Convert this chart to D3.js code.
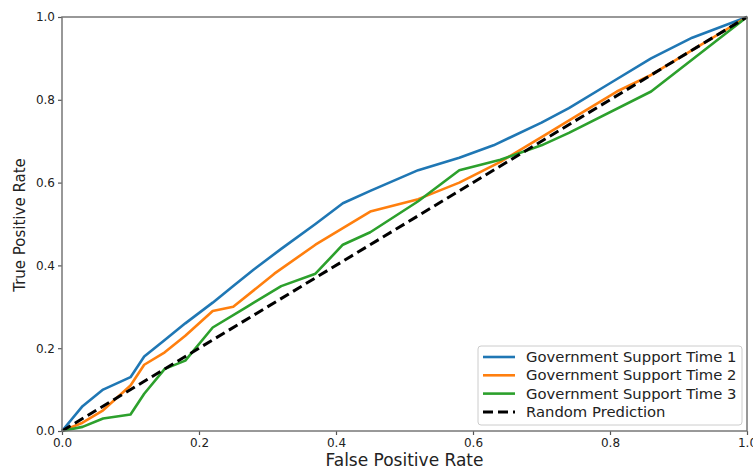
<!DOCTYPE html>
<html>
<head>
<meta charset="utf-8">
<script src="https://cdn.jsdelivr.net/npm/d3@7"></script>
<style>
  html, body { margin: 0; padding: 0; background: #fff; }
  svg text { font-family: "DejaVu Sans", sans-serif; fill: #222; }
</style>
</head>
<body>
<div id="chart"></div>
<script>
// ROC curves, one per time point, plus the random baseline
const time1 = [
    [0, 0], [0.03, 0.06], [0.06, 0.10], [0.10, 0.13], [0.12, 0.18], [0.15, 0.22],
    [0.18, 0.26], [0.22, 0.31], [0.25, 0.35], [0.28, 0.39], [0.32, 0.44], [0.37, 0.50],
    [0.41, 0.55], [0.45, 0.58], [0.52, 0.63], [0.58, 0.66], [0.63, 0.69], [0.70, 0.745],
    [0.74, 0.78], [0.80, 0.84], [0.86, 0.90], [0.92, 0.95], [1, 1]
];
const time2 = [
    [0, 0], [0.03, 0.02], [0.06, 0.05], [0.10, 0.11], [0.12, 0.16], [0.15, 0.19],
    [0.18, 0.23], [0.22, 0.29], [0.25, 0.30], [0.31, 0.38], [0.37, 0.45], [0.45, 0.53],
    [0.52, 0.56], [0.58, 0.60], [0.64, 0.65], [0.70, 0.71], [0.75, 0.76], [0.81, 0.82],
    [0.86, 0.86], [0.92, 0.92], [1, 1]
];
const time3 = [
    [0, 0], [0.03, 0.01], [0.06, 0.03], [0.10, 0.04], [0.12, 0.09], [0.15, 0.15],
    [0.18, 0.17], [0.22, 0.25], [0.27, 0.30], [0.32, 0.35], [0.37, 0.38], [0.41, 0.45],
    [0.45, 0.48], [0.52, 0.555], [0.58, 0.63], [0.64, 0.655], [0.70, 0.69], [0.74, 0.72],
    [0.86, 0.82], [1, 1]
];
const randomLine = [[0, 0], [1, 1]];
const seriesNames = ["Government Support Time 1", "Government Support Time 2", "Government Support Time 3", "Random Prediction"];
const tickValues = [0, 0.2, 0.4, 0.6, 0.8, 1.0];

{
    const W = 753, H = 469;
    const margin = { top: 17, right: 6, bottom: 38, left: 62 };
    const width = W - margin.left - margin.right;
    const height = H - margin.top - margin.bottom;

    const svg = d3.select("#chart").append("svg")
        .attr("width", W)
        .attr("height", H);

    const g = svg.append("g")
        .attr("transform", `translate(${margin.left},${margin.top})`);

    const x = d3.scaleLinear().domain([0, 1]).range([0, width]);
    const y = d3.scaleLinear().domain([0, 1]).range([height, 0]);

    const line = d3.line().x(d => x(d[0])).y(d => y(d[1]));

    const series = [
        { name: seriesNames[0], data: time1, color: "#1f77b4", dash: null },
        { name: seriesNames[1], data: time2, color: "#ff7f0e", dash: null },
        { name: seriesNames[2], data: time3, color: "#2ca02c", dash: null },
        { name: seriesNames[3], data: randomLine, color: "#000000", dash: "10,5" }
    ];

    g.selectAll(".curve")
        .data(series)
        .enter()
        .append("path")
        .attr("class", "curve")
        .attr("d", d => line(d.data))
        .attr("fill", "none")
        .attr("stroke", d => d.color)
        .attr("stroke-width", d => d.dash ? 3 : 2.6)
        .attr("stroke-dasharray", d => d.dash)
        .attr("stroke-linejoin", "round");

    // axes
    const fmt = d3.format(".1f");
    const xAxis = g.append("g")
        .attr("transform", `translate(0,${height})`)
        .call(d3.axisBottom(x).tickValues(tickValues).tickFormat(fmt).tickSize(4).tickPadding(3));
    const yAxis = g.append("g")
        .call(d3.axisLeft(y).tickValues(tickValues).tickFormat(fmt).tickSize(4).tickPadding(3));

    [xAxis, yAxis].forEach(ax => {
        ax.select(".domain").remove();
        ax.selectAll(".tick line").attr("stroke", "#555").attr("stroke-width", 1.2);
        ax.selectAll(".tick text").attr("font-size", 12).attr("fill", "#222");
    });

    // frame
    g.append("rect")
        .attr("width", width)
        .attr("height", height)
        .attr("fill", "none")
        .attr("stroke", "#777")
        .attr("stroke-width", 1.5);

    svg.append("text")
        .attr("x", margin.left + width / 2)
        .attr("y", H - 3)
        .attr("text-anchor", "middle")
        .attr("font-size", 17)
        .text("False Positive Rate");

    svg.append("text")
        .attr("transform", `translate(25,${margin.top + height / 2 + 1}) rotate(-90)`)
        .attr("text-anchor", "middle")
        .attr("font-size", 15)
        .text("True Positive Rate");

    // legend
    const legend = svg.append("g").attr("transform", "translate(478,346)");
    legend.append("rect")
        .attr("width", 264)
        .attr("height", 79)
        .attr("rx", 3)
        .attr("fill", "#fff")
        .attr("fill-opacity", 0.8)
        .attr("stroke", "#ccc");

    const rows = legend.selectAll(".row")
        .data(series)
        .enter()
        .append("g")
        .attr("transform", (d, i) => `translate(0,${11 + i * 18.3})`);

    rows.append("line")
        .attr("x1", 5).attr("x2", 37)
        .attr("stroke", d => d.color)
        .attr("stroke-width", d => d.dash ? 3 : 2.6)
        .attr("stroke-dasharray", d => d.dash);

    rows.append("text")
        .attr("x", 48)
        .attr("dy", "0.35em")
        .attr("font-size", 14.8)
        .text(d => d.name);
}
</script>
</body>
</html>
